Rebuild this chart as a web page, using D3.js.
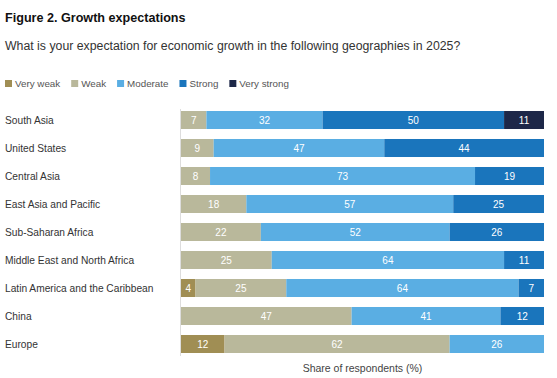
<!DOCTYPE html>
<html><head><meta charset="utf-8">
<script src="https://cdn.jsdelivr.net/npm/d3@7"></script>
<style>body{margin:0;background:#fff;}svg{display:block;font-family:"Liberation Sans",Arial,sans-serif;}</style>
</head><body><svg id="c" width="557" height="378"></svg>
<script>
const categories = ["South Asia","United States","Central Asia","East Asia and Pacific","Sub-Saharan Africa","Middle East and North Africa","Latin America and the Caribbean","China","Europe"];
const seriesNames = ["Very weak","Weak","Moderate","Strong","Very strong"];
const veryWeak   = [0,0,0,0,0,0,4,0,12];
const weak       = [7,9,8,18,22,25,25,47,62];
const moderate   = [32,47,73,57,52,64,64,41,26];
const strong     = [50,44,19,25,26,11,7,12,0];
const veryStrong = [11,0,0,0,0,0,0,0,0];
const colors = ["#a08e54","#b9b89b","#5aaee3","#1a75bc","#1d2748"];
const title = "Figure 2. Growth expectations";
const subtitle = "What is your expectation for economic growth in the following geographies in 2025?";
const xTitle = "Share of respondents (%)";

const svg = d3.select("#c");
const series = [veryWeak, weak, moderate, strong, veryStrong];
const rows = categories.map((c,i)=>{const o={cat:c}; seriesNames.forEach((s,j)=>o[s]=series[j][i]); return o;});
const stack = d3.stack().keys(seriesNames)(rows);

const x = d3.scaleLinear().domain([0,100]).range([181,544]);
const y = d3.scaleBand().domain(categories).range([106,358]).paddingInner(0.357).paddingOuter(0.1785);

svg.append("text").attr("x",5).attr("y",22).attr("font-size",12.6).attr("font-weight","bold").attr("fill","#111").text(title);
svg.append("text").attr("x",5).attr("y",50).attr("font-size",12.3).attr("fill","#333").text(subtitle);

// legend
let lx = 5;
seriesNames.forEach((s,i)=>{
  const g = svg.append("g");
  g.append("rect").attr("x",lx).attr("y",80).attr("width",7).attr("height",7).attr("fill",colors[i]);
  const t = g.append("text").attr("x",lx+10).attr("y",87).attr("font-size",9.8).attr("fill","#555").text(s);
  lx += 10 + t.node().getComputedTextLength() + 11;
});

// axis line
svg.append("line").attr("x1",180.5).attr("x2",180.5).attr("y1",109).attr("y2",356).attr("stroke","#ddd").attr("stroke-width",1);

// category labels
svg.append("g").selectAll("text").data(categories).join("text")
  .attr("x",5).attr("y",d=>y(d)+y.bandwidth()/2).attr("dy","0.35em")
  .attr("font-size",10.2).attr("fill","#333").text(d=>d);

stack.forEach((layer,i)=>{
  const g = svg.append("g");
  layer.forEach((d,k)=>{
    const v = d[1]-d[0];
    if(v<=0) return;
    g.append("rect").attr("x",x(d[0])).attr("y",y(categories[k])).attr("width",x(d[1])-x(d[0])).attr("height",y.bandwidth()).attr("fill",colors[i]);
    g.append("text").attr("x",(x(d[0])+x(d[1]))/2).attr("y",y(categories[k])+y.bandwidth()/2).attr("dy","0.35em")
      .attr("text-anchor","middle").attr("font-size",10).attr("fill","#fff").text(v);
  });
});

svg.append("text").attr("x",(x(0)+x(100))/2).attr("y",372).attr("text-anchor","middle").attr("font-size",10.5).attr("fill","#444").text(xTitle);
</script></body></html>
